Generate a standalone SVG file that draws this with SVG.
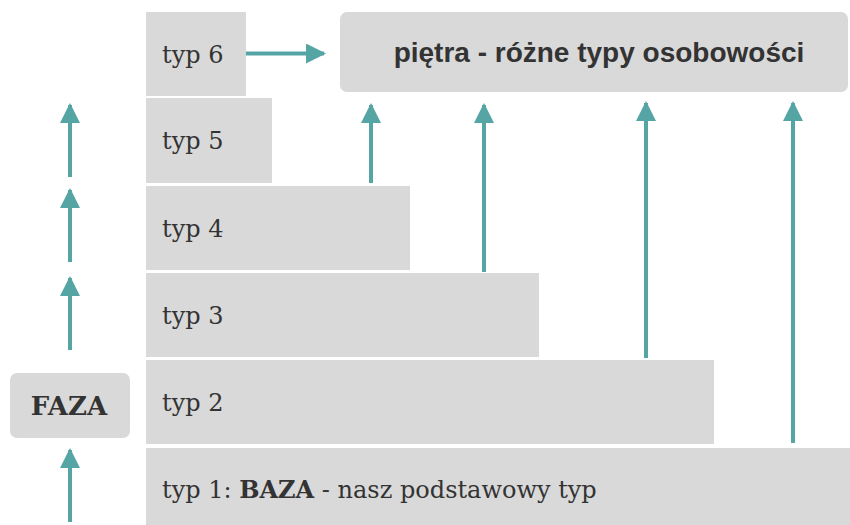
<svg xmlns="http://www.w3.org/2000/svg" width="850" height="525" viewBox="0 0 850 525">
  <style>
    .box { fill: #d9d9d9; }
    .lbl { font-family: "DejaVu Serif", "Liberation Serif", serif; font-size: 24px; fill: #333333; }
    .strong { font-weight: bold; }
    .faza { font-size: 26px; }
    .head { font-family: "Liberation Sans", Arial, sans-serif; font-weight: bold; font-size: 28px; fill: #333333; }
    .conn line { stroke: #55a5a5; stroke-width: 4; }
  </style>
  <defs>
    <marker id="tip" viewBox="0 0 10 10" refX="9" refY="5" markerWidth="5" markerHeight="5" markerUnits="strokeWidth" orient="auto">
      <path d="M0,0 L10,5 L0,10 z" fill="#55a5a5"/>
    </marker>
  </defs>
  <rect width="850" height="525" fill="#ffffff"/>

  <g id="typ6">
    <rect class="box" x="146" y="12" width="100" height="84"/>
    <text class="lbl" x="162" y="63">typ 6</text>
  </g>
  <g id="typ5">
    <rect class="box" x="146" y="98" width="126" height="85"/>
    <text class="lbl" x="162" y="149">typ 5</text>
  </g>
  <g id="typ4">
    <rect class="box" x="146" y="186" width="264" height="84"/>
    <text class="lbl" x="162" y="237">typ 4</text>
  </g>
  <g id="typ3">
    <rect class="box" x="146" y="273" width="393" height="84"/>
    <text class="lbl" x="162" y="324">typ 3</text>
  </g>
  <g id="typ2">
    <rect class="box" x="146" y="360" width="568" height="84"/>
    <text class="lbl" x="162" y="411">typ 2</text>
  </g>
  <g id="typ1">
    <rect class="box" x="146" y="448" width="704" height="77"/>
    <text class="lbl" x="162" y="498">typ 1: <tspan class="strong">BAZA</tspan> - nasz podstawowy typ</text>
  </g>
  <g id="pietra">
    <rect class="box" x="340" y="12" width="508" height="80" rx="7"/>
    <text class="head" x="599" y="62" text-anchor="middle">piętra - różne typy osobowości</text>
  </g>
  <g id="faza">
    <rect class="box" x="10" y="373" width="120" height="65" rx="7"/>
    <text class="lbl strong faza" x="69" y="415" text-anchor="middle">FAZA</text>
  </g>

  <g id="connectors" class="conn">
    <line x1="246" y1="53.5" x2="324" y2="53.5" marker-end="url(#tip)"/>
    <line x1="70" y1="522" x2="70" y2="450" marker-end="url(#tip)"/>
    <line x1="70" y1="350" x2="70" y2="278" marker-end="url(#tip)"/>
    <line x1="70" y1="262" x2="70" y2="190" marker-end="url(#tip)"/>
    <line x1="70" y1="177" x2="70" y2="105" marker-end="url(#tip)"/>
    <line x1="371" y1="183" x2="371" y2="105" marker-end="url(#tip)"/>
    <line x1="484" y1="272" x2="484" y2="105" marker-end="url(#tip)"/>
    <line x1="646" y1="358" x2="646" y2="103" marker-end="url(#tip)"/>
    <line x1="793" y1="443" x2="793" y2="103" marker-end="url(#tip)"/>
  </g>
</svg>
